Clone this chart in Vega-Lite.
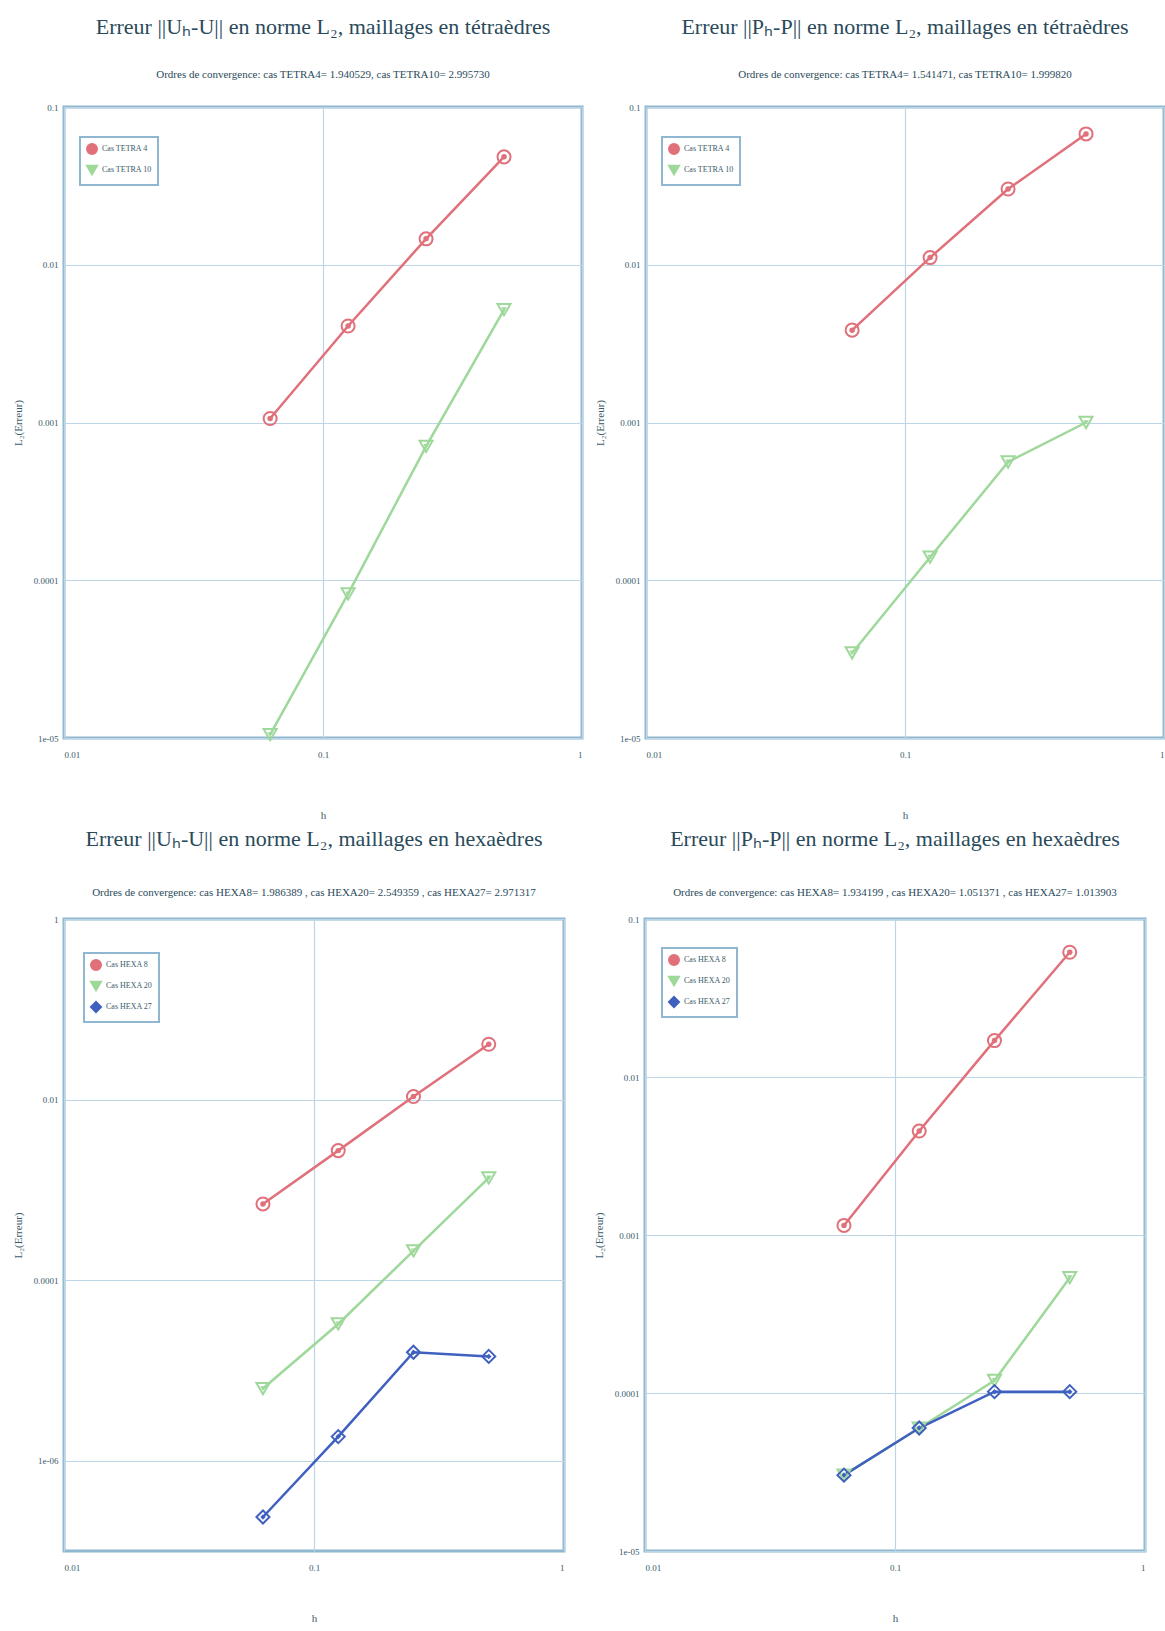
{
  "$schema": "https://vega.github.io/schema/vega-lite/v6.json",
  "padding": {"left": 10, "top": 14, "right": 5, "bottom": 5},
  "background": "white",
  "config": {
    "font": "Liberation Serif",
    "view": {"stroke": "#8fb8d0", "strokeWidth": 3},
    "title": {"font": "Liberation Serif", "fontSize": 22, "fontWeight": "normal", "color": "#2a4a5a", "subtitleFont": "Liberation Serif", "subtitleFontSize": 11, "subtitleColor": "#2a4a5a", "subtitlePadding": 30, "offset": 22, "anchor": "middle", "frame": "group"},
    "axis": {"labelFont": "Liberation Serif", "labelFontSize": 9, "labelColor": "#3a5a6a", "titleFont": "Liberation Serif", "titleFontSize": 11, "titleFontWeight": "normal", "titleColor": "#3a5a6a", "gridColor": "#bcd6e8", "gridWidth": 1.2, "domain": false, "ticks": false, "labelPadding": 6},
    "axisX": {"labelPadding": 12},
    "legend": {"labelFont": "Liberation Serif", "labelFontSize": 8, "labelColor": "#3a5a6a", "strokeColor": "#8fb8d0", "strokeWidth": 2, "fillColor": "white", "padding": 6, "rowPadding": 3, "symbolStrokeWidth": 2}
  },
  "resolve": {"scale": {"color": "independent", "shape": "independent", "x": "independent", "y": "independent"}, "legend": {"color": "independent", "shape": "independent"}},
  "data": {"values": [
    {"panel": "TL", "cas": "Cas TETRA 4", "h": 0.0625, "err": 0.00106},
    {"panel": "TL", "cas": "Cas TETRA 4", "h": 0.125, "err": 0.00409},
    {"panel": "TL", "cas": "Cas TETRA 4", "h": 0.25, "err": 0.0146},
    {"panel": "TL", "cas": "Cas TETRA 4", "h": 0.5, "err": 0.0483},
    {"panel": "TL", "cas": "Cas TETRA 10", "h": 0.0625, "err": 0.0000105},
    {"panel": "TL", "cas": "Cas TETRA 10", "h": 0.125, "err": 0.000082},
    {"panel": "TL", "cas": "Cas TETRA 10", "h": 0.25, "err": 0.000706},
    {"panel": "TL", "cas": "Cas TETRA 10", "h": 0.5, "err": 0.0052},
    {"panel": "TR", "cas": "Cas TETRA 4", "h": 0.0625, "err": 0.00385},
    {"panel": "TR", "cas": "Cas TETRA 4", "h": 0.125, "err": 0.0111},
    {"panel": "TR", "cas": "Cas TETRA 4", "h": 0.25, "err": 0.0302},
    {"panel": "TR", "cas": "Cas TETRA 4", "h": 0.5, "err": 0.0675},
    {"panel": "TR", "cas": "Cas TETRA 10", "h": 0.0625, "err": 0.0000346},
    {"panel": "TR", "cas": "Cas TETRA 10", "h": 0.125, "err": 0.00014},
    {"panel": "TR", "cas": "Cas TETRA 10", "h": 0.25, "err": 0.000562},
    {"panel": "TR", "cas": "Cas TETRA 10", "h": 0.5, "err": 0.001},
    {"panel": "BL", "cas": "Cas HEXA 8", "h": 0.0625, "err": 0.000698},
    {"panel": "BL", "cas": "Cas HEXA 8", "h": 0.125, "err": 0.00272},
    {"panel": "BL", "cas": "Cas HEXA 8", "h": 0.25, "err": 0.0108},
    {"panel": "BL", "cas": "Cas HEXA 8", "h": 0.5, "err": 0.041},
    {"panel": "BL", "cas": "Cas HEXA 20", "h": 0.0625, "err": 0.0000063},
    {"panel": "BL", "cas": "Cas HEXA 20", "h": 0.125, "err": 0.0000327},
    {"panel": "BL", "cas": "Cas HEXA 20", "h": 0.25, "err": 0.000211},
    {"panel": "BL", "cas": "Cas HEXA 20", "h": 0.5, "err": 0.00136},
    {"panel": "BL", "cas": "Cas HEXA 27", "h": 0.0625, "err": 0.000000238},
    {"panel": "BL", "cas": "Cas HEXA 27", "h": 0.125, "err": 0.00000185},
    {"panel": "BL", "cas": "Cas HEXA 27", "h": 0.25, "err": 0.0000159},
    {"panel": "BL", "cas": "Cas HEXA 27", "h": 0.5, "err": 0.0000143},
    {"panel": "BR", "cas": "Cas HEXA 8", "h": 0.0625, "err": 0.00115},
    {"panel": "BR", "cas": "Cas HEXA 8", "h": 0.125, "err": 0.00455},
    {"panel": "BR", "cas": "Cas HEXA 8", "h": 0.25, "err": 0.017},
    {"panel": "BR", "cas": "Cas HEXA 8", "h": 0.5, "err": 0.0616},
    {"panel": "BR", "cas": "Cas HEXA 20", "h": 0.0625, "err": 0.0000302},
    {"panel": "BR", "cas": "Cas HEXA 20", "h": 0.125, "err": 0.00006},
    {"panel": "BR", "cas": "Cas HEXA 20", "h": 0.25, "err": 0.00012},
    {"panel": "BR", "cas": "Cas HEXA 20", "h": 0.5, "err": 0.000537},
    {"panel": "BR", "cas": "Cas HEXA 27", "h": 0.0625, "err": 0.0000302},
    {"panel": "BR", "cas": "Cas HEXA 27", "h": 0.125, "err": 0.00006},
    {"panel": "BR", "cas": "Cas HEXA 27", "h": 0.25, "err": 0.000102},
    {"panel": "BR", "cas": "Cas HEXA 27", "h": 0.5, "err": 0.000102}
  ]},
  "vconcat": [
    {
      "spacing": 8,
      "resolve": {"scale": {"color": "independent", "shape": "independent", "x": "independent", "y": "independent"}, "legend": {"color": "independent", "shape": "independent"}},
      "hconcat": [
        {
          "width": 518, "height": 631,
          "title": {"text": "Erreur ||Uₕ-U|| en norme L₂, maillages en tétraèdres", "subtitle": "Ordres de convergence: cas TETRA4= 1.940529, cas TETRA10= 2.995730"},
          "transform": [{"filter": "datum.panel == 'TL'"}],
          "encoding": {
            "x": {"field": "h", "type": "quantitative", "scale": {"type": "log", "domain": [0.01, 1], "nice": false}, "axis": {"values": [0.01, 0.1, 1], "labelExpr": "format(datum.value, '~g')", "title": "h", "titlePadding": 50}},
            "y": {"field": "err", "type": "quantitative", "scale": {"type": "log", "domain": [0.00001, 0.1], "nice": false}, "axis": {"values": [0.00001, 0.0001, 0.001, 0.01, 0.1], "labelExpr": "datum.value < 0.00005 ? replace(format(datum.value, '.0e'), 'e-', 'e-0') : format(datum.value, '~g')", "title": "L₂(Erreur)", "titlePadding": 10}},
            "color": {"field": "cas", "type": "nominal", "scale": {"domain": ["Cas TETRA 4", "Cas TETRA 10"], "range": ["#e0707a", "#9ed89a"]}, "legend": {"title": null, "orient": "none", "legendX": 16, "legendY": 30}},
            "shape": {"field": "cas", "type": "nominal", "scale": {"domain": ["Cas TETRA 4", "Cas TETRA 10"], "range": ["circle", "triangle-down"]}, "legend": {"title": null, "orient": "none", "legendX": 16, "legendY": 30}}
          },
          "layer": [
            {"mark": {"type": "line", "strokeWidth": 2.5}},
            {"mark": {"type": "point", "filled": false, "strokeWidth": 2, "size": 170, "opacity": 1}}
          ]
        },
        {
          "width": 518, "height": 631,
          "title": {"text": "Erreur ||Pₕ-P|| en norme L₂, maillages en tétraèdres", "subtitle": "Ordres de convergence: cas TETRA4= 1.541471, cas TETRA10= 1.999820"},
          "transform": [{"filter": "datum.panel == 'TR'"}],
          "encoding": {
            "x": {"field": "h", "type": "quantitative", "scale": {"type": "log", "domain": [0.01, 1], "nice": false}, "axis": {"values": [0.01, 0.1, 1], "labelExpr": "format(datum.value, '~g')", "title": "h", "titlePadding": 50}},
            "y": {"field": "err", "type": "quantitative", "scale": {"type": "log", "domain": [0.00001, 0.1], "nice": false}, "axis": {"values": [0.00001, 0.0001, 0.001, 0.01, 0.1], "labelExpr": "datum.value < 0.00005 ? replace(format(datum.value, '.0e'), 'e-', 'e-0') : format(datum.value, '~g')", "title": "L₂(Erreur)", "titlePadding": 10}},
            "color": {"field": "cas", "type": "nominal", "scale": {"domain": ["Cas TETRA 4", "Cas TETRA 10"], "range": ["#e0707a", "#9ed89a"]}, "legend": {"title": null, "orient": "none", "legendX": 16, "legendY": 30}},
            "shape": {"field": "cas", "type": "nominal", "scale": {"domain": ["Cas TETRA 4", "Cas TETRA 10"], "range": ["circle", "triangle-down"]}, "legend": {"title": null, "orient": "none", "legendX": 16, "legendY": 30}}
          },
          "layer": [
            {"mark": {"type": "line", "strokeWidth": 2.5}},
            {"mark": {"type": "point", "filled": false, "strokeWidth": 2, "size": 170, "opacity": 1}}
          ]
        }
      ]
    },
    {
      "spacing": 25,
      "resolve": {"scale": {"color": "independent", "shape": "independent", "x": "independent", "y": "independent"}, "legend": {"color": "independent", "shape": "independent"}},
      "hconcat": [
        {
          "width": 500, "height": 632,
          "title": {"text": "Erreur ||Uₕ-U|| en norme L₂, maillages en hexaèdres", "subtitle": "Ordres de convergence: cas HEXA8= 1.986389 , cas HEXA20= 2.549359 , cas HEXA27= 2.971317", "subtitlePadding": 36, "offset": 16},
          "transform": [{"filter": "datum.panel == 'BL'"}],
          "encoding": {
            "x": {"field": "h", "type": "quantitative", "scale": {"type": "log", "domain": [0.01, 1], "nice": false}, "axis": {"values": [0.01, 0.1, 1], "labelExpr": "format(datum.value, '~g')", "title": "h", "titlePadding": 40}},
            "y": {"field": "err", "type": "quantitative", "scale": {"type": "log", "domain": [0.0000001, 1], "nice": false}, "axis": {"values": [0.000001, 0.0001, 0.01, 1], "labelExpr": "datum.value < 0.00005 ? replace(format(datum.value, '.0e'), 'e-', 'e-0') : format(datum.value, '~g')", "title": "L₂(Erreur)", "titlePadding": 10}},
            "color": {"field": "cas", "type": "nominal", "scale": {"domain": ["Cas HEXA 8", "Cas HEXA 20", "Cas HEXA 27"], "range": ["#e0707a", "#9ed89a", "#4060c0"]}, "legend": {"title": null, "orient": "none", "legendX": 20, "legendY": 34}},
            "shape": {"field": "cas", "type": "nominal", "scale": {"domain": ["Cas HEXA 8", "Cas HEXA 20", "Cas HEXA 27"], "range": ["circle", "triangle-down", "diamond"]}, "legend": {"title": null, "orient": "none", "legendX": 20, "legendY": 34}}
          },
          "layer": [
            {"mark": {"type": "line", "strokeWidth": 2.5}},
            {"mark": {"type": "point", "filled": false, "strokeWidth": 2, "size": 170, "opacity": 1}}
          ]
        },
        {
          "width": 500, "height": 632,
          "title": {"text": "Erreur ||Pₕ-P|| en norme L₂, maillages en hexaèdres", "subtitle": "Ordres de convergence: cas HEXA8= 1.934199 , cas HEXA20= 1.051371 , cas HEXA27= 1.013903", "subtitlePadding": 36, "offset": 16},
          "transform": [{"filter": "datum.panel == 'BR'"}],
          "encoding": {
            "x": {"field": "h", "type": "quantitative", "scale": {"type": "log", "domain": [0.01, 1], "nice": false}, "axis": {"values": [0.01, 0.1, 1], "labelExpr": "format(datum.value, '~g')", "title": "h", "titlePadding": 40}},
            "y": {"field": "err", "type": "quantitative", "scale": {"type": "log", "domain": [0.00001, 0.1], "nice": false}, "axis": {"values": [0.00001, 0.0001, 0.001, 0.01, 0.1], "labelExpr": "datum.value < 0.00005 ? replace(format(datum.value, '.0e'), 'e-', 'e-0') : format(datum.value, '~g')", "title": "L₂(Erreur)", "titlePadding": 10}},
            "color": {"field": "cas", "type": "nominal", "scale": {"domain": ["Cas HEXA 8", "Cas HEXA 20", "Cas HEXA 27"], "range": ["#e0707a", "#9ed89a", "#4060c0"]}, "legend": {"title": null, "orient": "none", "legendX": 17, "legendY": 29}},
            "shape": {"field": "cas", "type": "nominal", "scale": {"domain": ["Cas HEXA 8", "Cas HEXA 20", "Cas HEXA 27"], "range": ["circle", "triangle-down", "diamond"]}, "legend": {"title": null, "orient": "none", "legendX": 17, "legendY": 29}}
          },
          "layer": [
            {"mark": {"type": "line", "strokeWidth": 2.5}},
            {"mark": {"type": "point", "filled": false, "strokeWidth": 2, "size": 170, "opacity": 1}}
          ]
        }
      ]
    }
  ],
  "spacing": 4
}
